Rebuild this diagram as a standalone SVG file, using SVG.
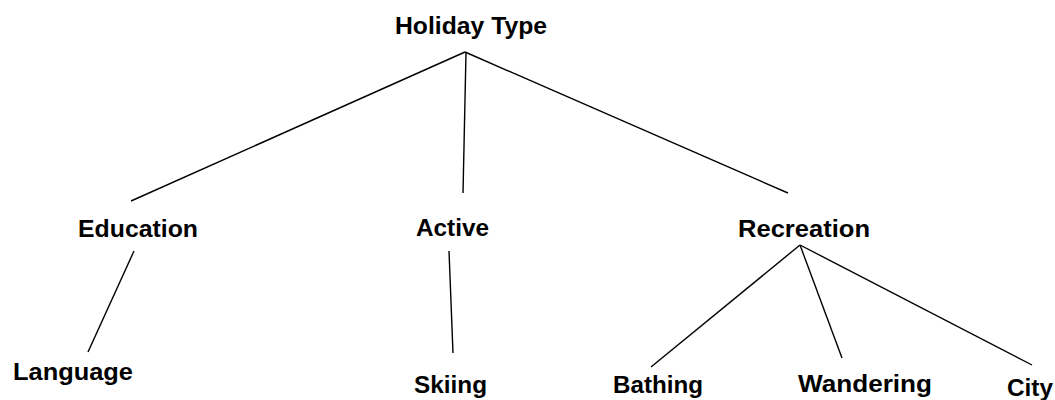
<svg xmlns="http://www.w3.org/2000/svg" width="1055" height="400" viewBox="0 0 1055 400">
<style>
.lbl{font-family:"Liberation Sans",Arial,sans-serif;font-weight:bold;font-size:23px;fill:#000}
.edge{stroke:#000;stroke-width:1.4;fill:none}
</style>
<rect width="1055" height="400" fill="#fff"/>
<g id="connectors">
<line class="edge" x1="465" y1="52" x2="131" y2="201"/>
<line class="edge" x1="466" y1="53" x2="463" y2="193"/>
<line class="edge" x1="465" y1="52" x2="788" y2="193"/>
<line class="edge" x1="134" y1="251" x2="88" y2="352"/>
<line class="edge" x1="449" y1="251" x2="453" y2="353"/>
<line class="edge" x1="800" y1="245" x2="651" y2="367"/>
<line class="edge" x1="800" y1="245" x2="842" y2="358"/>
<line class="edge" x1="800" y1="245" x2="1032" y2="365"/>
</g>
<g id="holiday-type"><text class="lbl" x="395" y="34" textLength="152" lengthAdjust="spacingAndGlyphs">Holiday Type</text></g>
<g id="education"><text class="lbl" x="78" y="237" textLength="120" lengthAdjust="spacingAndGlyphs">Education</text></g>
<g id="active"><text class="lbl" x="416" y="236" textLength="73" lengthAdjust="spacingAndGlyphs">Active</text></g>
<g id="recreation"><text class="lbl" x="738" y="237" textLength="132" lengthAdjust="spacingAndGlyphs">Recreation</text></g>
<g id="language"><text class="lbl" x="13" y="380" textLength="120" lengthAdjust="spacingAndGlyphs">Language</text></g>
<g id="skiing"><text class="lbl" x="414" y="393" textLength="73" lengthAdjust="spacingAndGlyphs">Skiing</text></g>
<g id="bathing"><text class="lbl" x="613" y="393" textLength="90" lengthAdjust="spacingAndGlyphs">Bathing</text></g>
<g id="wandering"><text class="lbl" x="798" y="392" textLength="134" lengthAdjust="spacingAndGlyphs">Wandering</text></g>
<g id="city"><text class="lbl" x="1007" y="396" textLength="46" lengthAdjust="spacingAndGlyphs">City</text></g>
</svg>
